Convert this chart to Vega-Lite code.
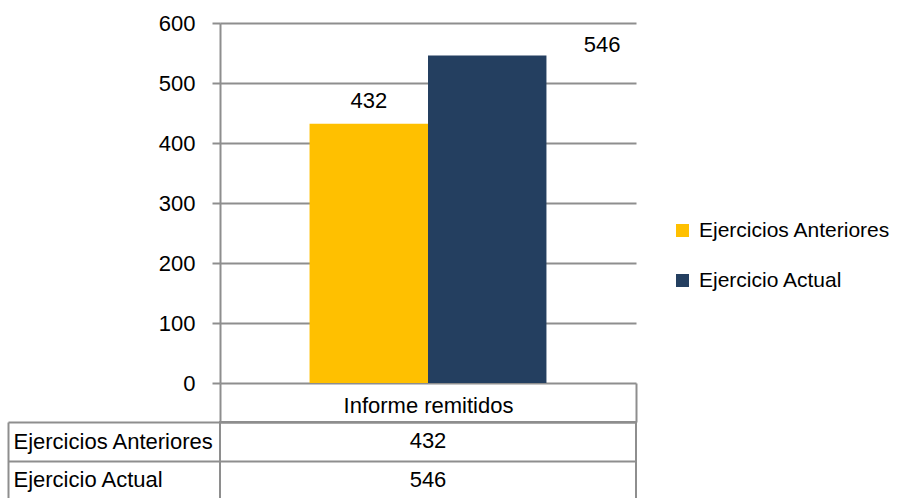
{
  "$schema": "https://vega.github.io/schema/vega-lite/v6.json",
  "autosize": {"type": "pad"},
  "padding": {"left": 6, "top": 12, "right": 0, "bottom": 0},
  "background": "white",
  "config": {
    "font": "Liberation Sans",
    "view": {"stroke": null},
    "axis": {"labelFont": "Liberation Sans", "labelColor": "#000000", "labelFontSize": 22, "titleFont": "Liberation Sans"},
    "legend": {"labelFont": "Liberation Sans"}
  },
  "datasets": {
    "informes": [
      {"categoria": "Informe remitidos", "serie": "Ejercicios Anteriores", "valor": 432},
      {"categoria": "Informe remitidos", "serie": "Ejercicio Actual", "valor": 546}
    ]
  },
  "bounds": "flush",
  "spacing": 39,
  "vconcat": [
    {
      "width": 416,
      "height": 360,
      "data": {"name": "informes"},
      "encoding": {
        "x": {"field": "categoria", "type": "nominal", "scale": {"paddingInner": 0, "paddingOuter": 0.378}, "axis": null},
        "xOffset": {"field": "serie", "type": "nominal", "sort": ["Ejercicios Anteriores", "Ejercicio Actual"], "scale": {"paddingInner": 0, "paddingOuter": 0}},
        "y": {
          "field": "valor", "type": "quantitative",
          "scale": {"domain": [0, 600], "nice": false},
          "axis": {
            "title": null, "values": [0, 100, 200, 300, 400, 500, 600],
            "grid": true, "gridColor": "#8e8e8e", "gridWidth": 2,
            "tickColor": "#8e8e8e", "tickWidth": 2, "tickSize": 8,
            "domainColor": "#8e8e8e", "domainWidth": 2,
            "labelPadding": 17
          }
        }
      },
      "layer": [
        {
          "mark": {"type": "bar"},
          "encoding": {
            "color": {
              "field": "serie", "type": "nominal",
              "scale": {"domain": ["Ejercicios Anteriores", "Ejercicio Actual"], "range": ["#FFC000", "#243F60"]},
              "legend": {
                "title": null, "orient": "none", "legendX": 452, "legendY": 197,
                "symbolType": "square", "symbolSize": 169, "symbolStrokeWidth": 0,
                "labelFontSize": 21, "labelColor": "#000000", "labelOffset": 6,
                "rowPadding": 28, "padding": 0, "labelLimit": 0
              }
            }
          }
        },
        {
          "transform": [{"filter": "datum.serie == 'Ejercicios Anteriores'"}],
          "mark": {"type": "text", "baseline": "alphabetic", "align": "center", "dy": -16, "fontSize": 22, "color": "#000000"},
          "encoding": {"text": {"field": "valor", "type": "quantitative"}}
        },
        {
          "transform": [{"filter": "datum.serie == 'Ejercicio Actual'"}],
          "mark": {"type": "text", "baseline": "alphabetic", "align": "center", "dx": 115, "dy": -3, "fontSize": 22, "color": "#000000"},
          "encoding": {"text": {"field": "valor", "type": "quantitative"}}
        }
      ]
    },
    {
      "width": 416,
      "height": 77,
      "data": {"name": "informes"},
      "view": {"stroke": "#8e8e8e", "strokeWidth": 2},
      "mark": {"type": "text", "fontSize": 22, "color": "#000000", "baseline": "middle"},
      "encoding": {
        "x": {
          "field": "categoria", "type": "nominal",
          "scale": {"paddingInner": 0, "paddingOuter": 0},
          "axis": {
            "orient": "top", "title": null, "tickBand": "extent", "tickSize": 39, "tickColor": "#8e8e8e", "tickWidth": 2,
            "domainColor": "#8e8e8e", "domainWidth": 2, "labelAngle": 0, "labelBaseline": "alphabetic", "labelPadding": -29, "labelLimit": 0
          }
        },
        "y": {
          "field": "serie", "type": "nominal", "sort": ["Ejercicios Anteriores", "Ejercicio Actual"],
          "scale": {"paddingInner": 0, "paddingOuter": 0},
          "axis": {
            "title": null, "tickBand": "extent", "grid": true, "gridColor": "#8e8e8e", "gridWidth": 2,
            "offset": 212, "tickSize": -212, "tickColor": "#8e8e8e", "tickWidth": 2,
            "domainColor": "#8e8e8e", "domainWidth": 2,
            "labelAlign": "left", "labelPadding": 207, "labelLimit": 0
          }
        },
        "text": {"field": "valor", "type": "quantitative"}
      }
    }
  ]
}
